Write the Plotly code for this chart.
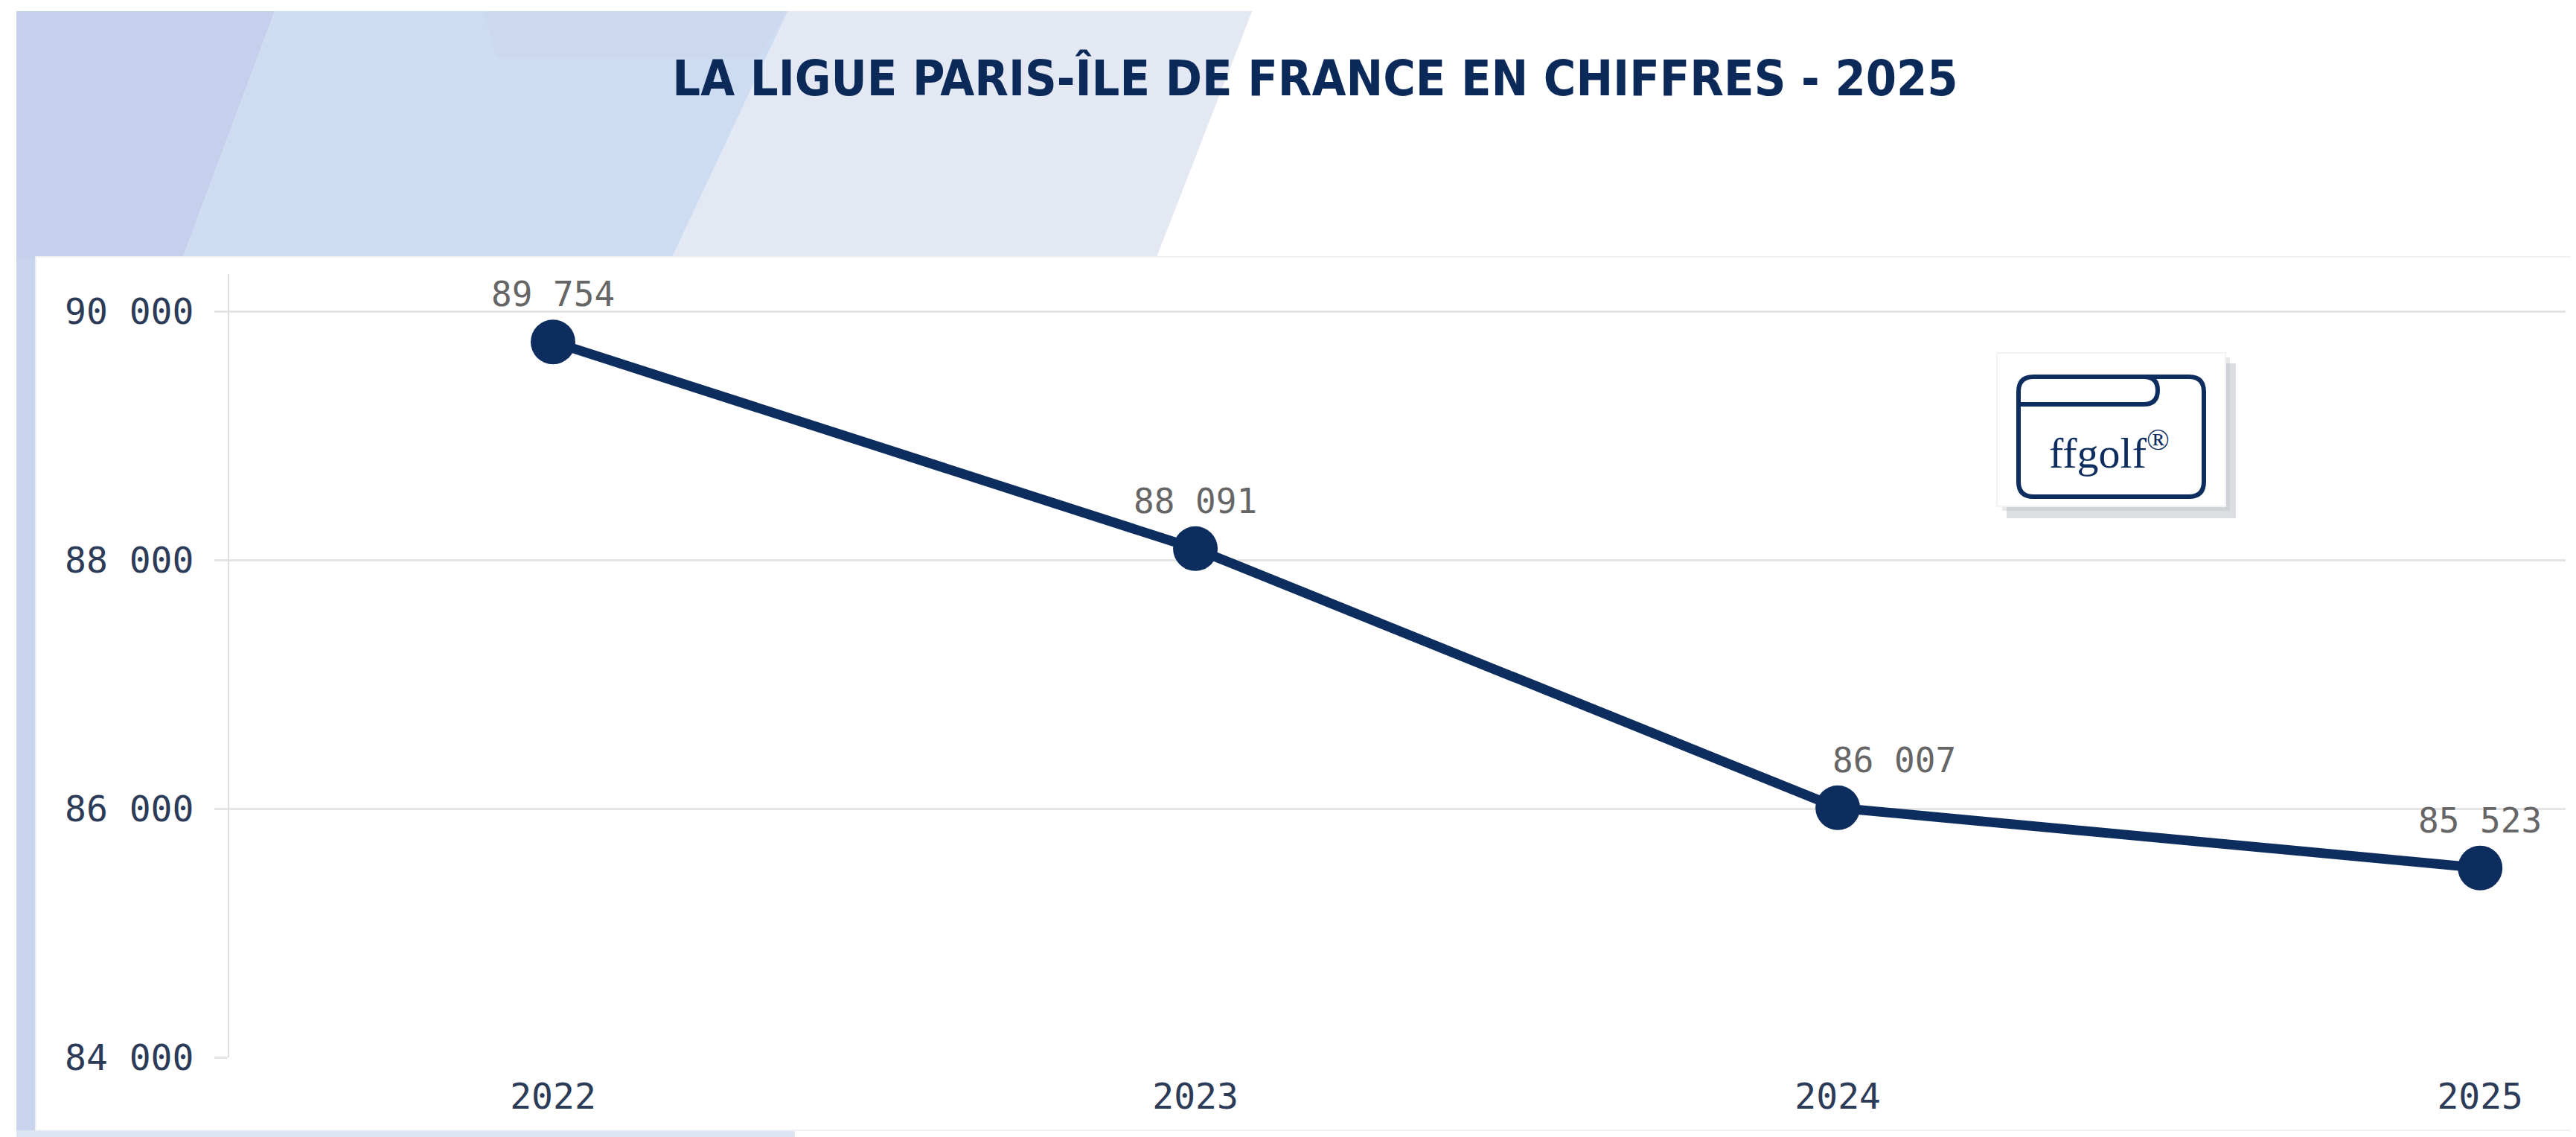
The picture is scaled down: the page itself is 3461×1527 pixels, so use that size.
import plotly.graph_objects as go

# ---- data ----
years = [2022, 2023, 2024, 2025]
licencies = [89754, 88091, 86007, 85523]
y_ticks = [84000, 86000, 88000, 90000]
label_xshift = [0, 0, 76, 0]

title_text = "LA LIGUE PARIS-ÎLE DE FRANCE EN CHIFFRES - 2025"

W, H = 3461, 1527
L, R, T, B = 300, 22, 360, 115
PW, PH = W - L - R, H - T - B
NAVY = "#0e2d5f"


def px(x, y):
    """pixel -> paper coordinates"""
    return (x - L) / PW, (H - B - y) / PH


def poly(points, fill):
    pts = [px(x, y) for x, y in points]
    d = "M " + " L ".join(f"{a:.5f},{b:.5f}" for a, b in pts) + " Z"
    return dict(type="path", xref="paper", yref="paper", path=d,
                fillcolor=fill, line=dict(color=fill, width=0), layer="below")


def rect(x0, y0, x1, y1, fill, line_color=None, line_width=0, opacity=1, layer="below"):
    a0, b0 = px(x0, y1)
    a1, b1 = px(x1, y0)
    return dict(type="rect", xref="paper", yref="paper", x0=a0, y0=b0, x1=a1, y1=b1,
                fillcolor=fill, opacity=opacity,
                line=dict(color=line_color or fill, width=line_width), layer=layer)


shapes = []
# background bands (top-left decoration)
shapes.append(rect(0, 0, W, H, "#ffffff"))
shapes.append(poly([(0, 0), (364, 0), (237, 340), (0, 340)], "#c4d0ec"))
shapes.append(poly([(364, 0), (1054, 0), (894, 340), (237, 340)], "#cedcf1"))
shapes.append(poly([(640, 0), (1054, 0), (1010, 70), (660, 70)], "#cbd8ee"))
shapes.append(poly([(1054, 0), (1677, 0), (1545, 340), (894, 340)], "#e3e8f3"))
shapes.append(rect(0, 0, 1700, 7, "#ffffff"))
shapes.append(rect(0, 0, 14, H, "#ffffff"))
# left strip and bottom strip
shapes.append(rect(14, 340, 40, H, "#c9d5ee"))
shapes.append(rect(14, 1510, 1060, H, "#dde5f5"))
# white card
shapes.append(rect(40, 337, W, 1510, "#ffffff", "#eef0f4", 2))

# logo box with shadow
shapes.append(rect(2688, 480, 2996, 688, "#9aa0aa", opacity=0.35, layer="above"))
shapes.append(rect(2682, 472, 2988, 678, "#b8bcc4", opacity=0.35, layer="above"))
shapes.append(rect(2675, 466, 2982, 672, "#ffffff", "#f0f2f5", 2, layer="above"))


def rounded_rect_path(x0, y0, x1, y1, r):
    p = lambda x, y: "{:.5f},{:.5f}".format(*px(x, y))
    return (f"M {p(x0 + r, y0)} L {p(x1 - r, y0)} Q {p(x1, y0)} {p(x1, y0 + r)} "
            f"L {p(x1, y1 - r)} Q {p(x1, y1)} {p(x1 - r, y1)} L {p(x0 + r, y1)} "
            f"Q {p(x0, y1)} {p(x0, y1 - r)} L {p(x0, y0 + r)} Q {p(x0, y0)} {p(x0 + r, y0)} Z")


shapes.append(dict(type="path", xref="paper", yref="paper",
                   path=rounded_rect_path(2704, 498, 2953, 659, 20),
                   line=dict(color=NAVY, width=6), fillcolor="rgba(0,0,0,0)", layer="above"))
pp = lambda x, y: "{:.5f},{:.5f}".format(*px(x, y))
tab = (f"M {pp(2704, 535)} L {pp(2872, 535)} Q {pp(2891, 535)} {pp(2891, 516)} "
       f"Q {pp(2891, 498)} {pp(2872, 498)}")
shapes.append(dict(type="path", xref="paper", yref="paper", path=tab,
                   line=dict(color=NAVY, width=6), layer="above"))

fig = go.Figure()
fig.add_trace(go.Scatter(
    x=years, y=licencies, mode="lines+markers",
    line=dict(color=NAVY, width=13),
    marker=dict(color=NAVY, size=60),
    cliponaxis=False, hoverinfo="skip", showlegend=False,
))

for xv, yv, dx in zip(years, licencies, label_xshift):
    fig.add_annotation(x=xv, y=yv, text=f"{yv:,}".replace(",", " "), showarrow=False,
                       xanchor="center", yanchor="middle", xshift=dx, yshift=64,
                       font=dict(family="DejaVu Sans Mono", size=46, color="#666666"))

lx, ly = px(2826, 596)
fig.add_annotation(xref="paper", yref="paper", x=lx, y=ly, xanchor="center", yanchor="middle",
                   text="ffgolf<sup>®</sup>", showarrow=False,
                   font=dict(family="Liberation Serif", size=58, color=NAVY))

fig.update_layout(
    width=W, height=H,
    margin=dict(l=L, r=R, t=T, b=B),
    paper_bgcolor="#ffffff", plot_bgcolor="rgba(0,0,0,0)",
    separators=", ",
    shapes=shapes,
    title=dict(text=title_text, x=1759 / W, y=1 - 97 / H, xanchor="center", yanchor="middle",
               font=dict(family="DejaVu Sans Condensed", size=66, color="#0b2a5a", weight=700)),
    xaxis=dict(range=[2021.496, 2025.133], tickvals=years, ticktext=[str(y) for y in years],
               showgrid=False, zeroline=False, showline=False, ticks="",
               ticklabelstandoff=20,
               tickfont=dict(family="DejaVu Sans Mono", size=48, color="#2c3b57")),
    yaxis=dict(range=[84000, 90300], tickvals=y_ticks, tickformat=",d",
               showgrid=True, gridcolor="#e4e4e4", gridwidth=3, zeroline=False,
               showline=True, linecolor="#dedede", linewidth=2,
               ticks="outside", ticklen=18, tickcolor="#e4e4e4", tickwidth=3,
               ticklabelstandoff=18,
               tickfont=dict(family="DejaVu Sans Mono", size=48, color="#2c3b57")),
)

fig.write_html("out.html")
